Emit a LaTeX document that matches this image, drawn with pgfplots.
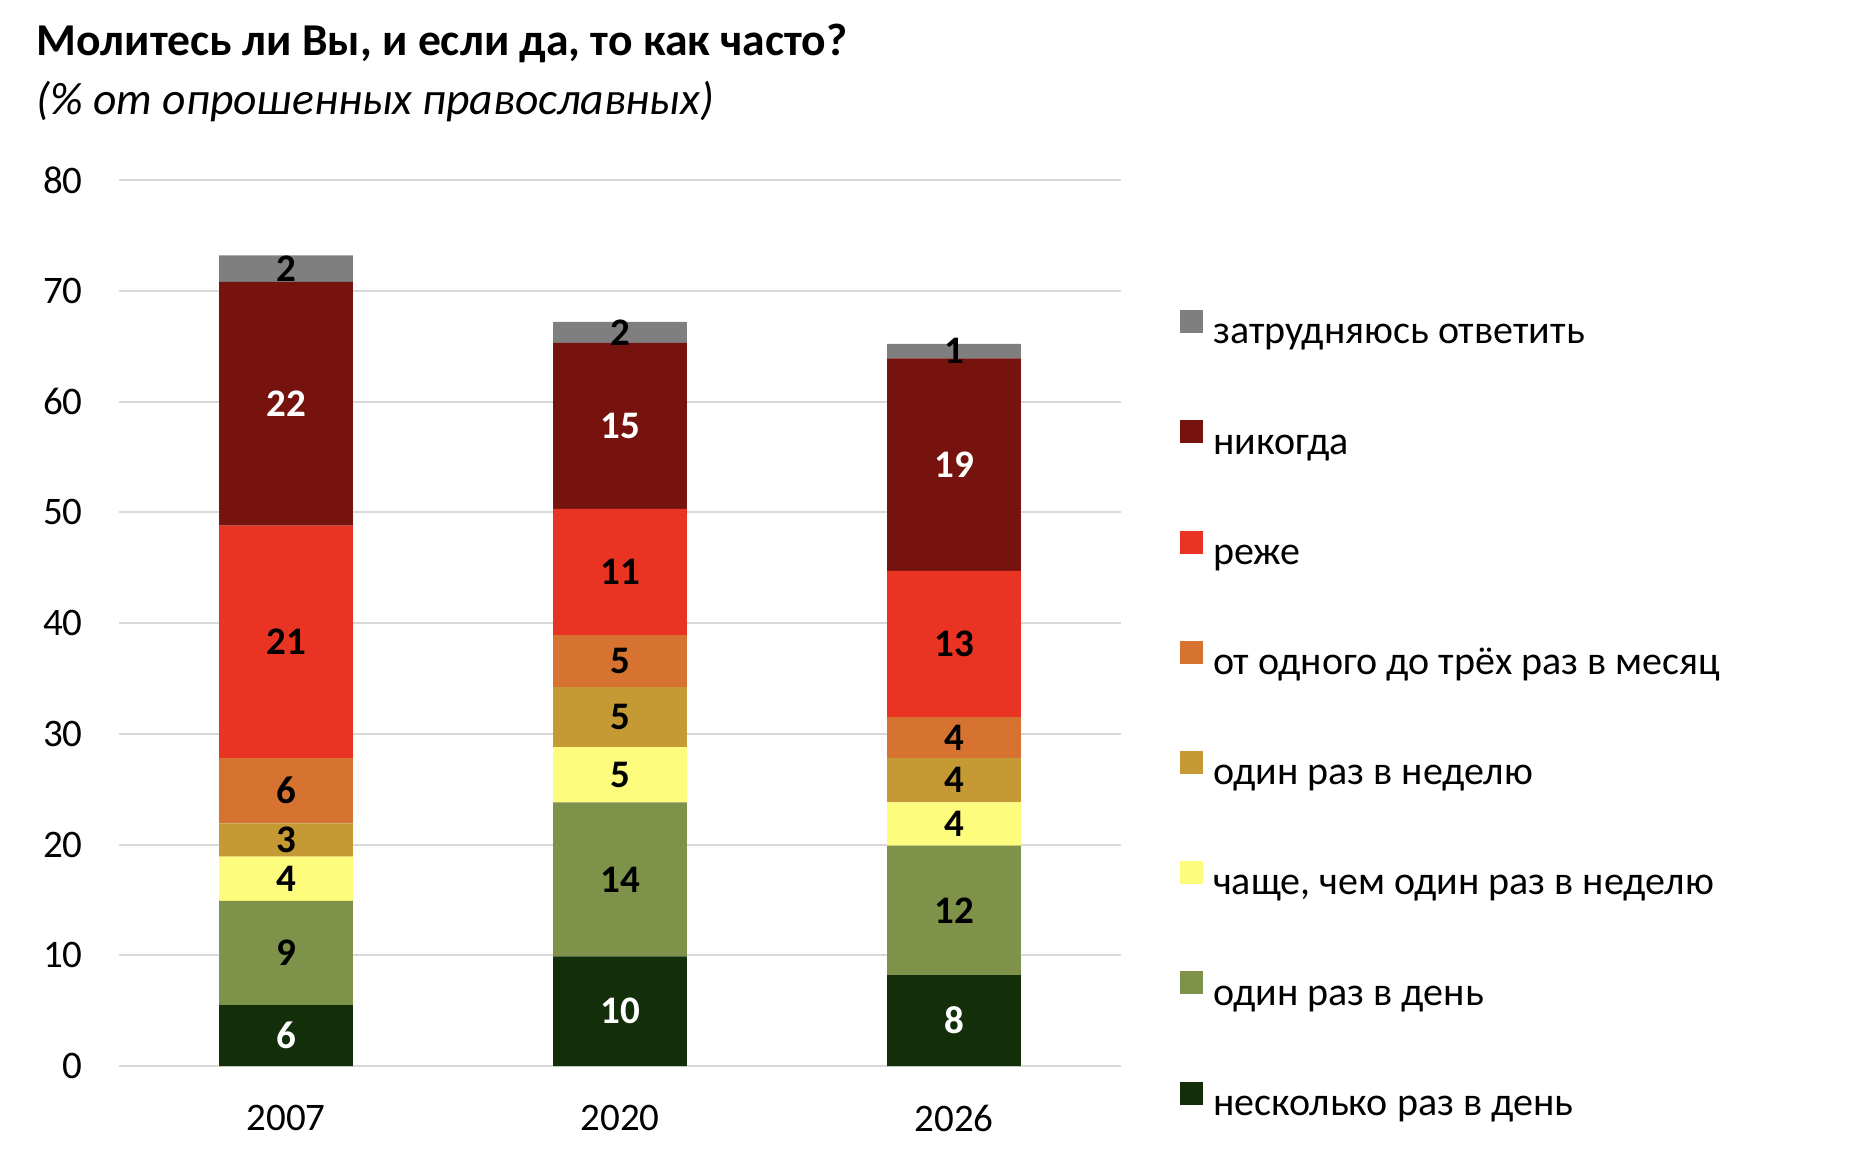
\documentclass[border=0pt]{standalone}
\usepackage{pgfplots}
\pgfplotsset{compat=1.18}
\usepackage{pgfplotstable}
\usepackage{fontspec}
\setmainfont{Carlito}

\definecolor{cA}{HTML}{132F09}
\definecolor{cB}{HTML}{7F9249}
\definecolor{cC}{HTML}{FEFC7C}
\definecolor{cD}{HTML}{C59A35}
\definecolor{cE}{HTML}{D67331}
\definecolor{cF}{HTML}{E93424}
\definecolor{cG}{HTML}{76130E}
\definecolor{cH}{HTML}{7F7F7F}
\definecolor{gridc}{HTML}{D9D9D9}

\pgfplotstableread{
x  a    b    c   d   e   f    g    h
0  5.5  9.4  4.0 3.0 5.9 21.0 22.0 2.4
1  9.9  13.9 5.0 5.4 4.7 11.4 15.0 1.9
2  8.2  11.7 3.9 4.0 3.7 13.2 19.2 1.3
}\data

\pgfplotsset{sqleg/.style={legend image code/.code={\path[##1] (0pt,0.3pt) rectangle (11.5pt,11.8pt);}}}

\newcommand\seg[4]{%
\addplot[fill=#2, draw=none, sqleg,
  visualization depends on={\thisrow{#1} \as \val},
  nodes near coords={\pgfmathprintnumber[fixed,precision=0]{\val}},
  every node near coord/.append style={text=#3, anchor=center, inner sep=0pt,
     font=\fontsize{19.5}{22}\selectfont\bfseries}]
  table[x=x,y=#1]{\data};
\addlegendentry{#4}}

\begin{document}
\begin{tikzpicture}
\useasboundingbox (0,0) rectangle (928pt,574pt);
\node[anchor=base west, inner sep=0pt, font=\fontsize{22.8}{28}\selectfont\bfseries] at (18pt,546pt) {Молитесь ли Вы, и если да, то как часто?};
\node[anchor=base west, inner sep=0pt, font=\fontsize{22.8}{28}\selectfont\itshape] at (18pt,516.5pt) {(\% от опрошенных православных)};
\begin{axis}[
  at={(59.5pt,41pt)}, anchor=south west,
  scale only axis, width=501pt, height=443pt,
  ybar stacked, bar width=0.4,
  xmin=-0.5, xmax=2.5, ymin=0, ymax=80,
  xtick={0,1,2}, xticklabels={2007,2020,2026},
  ytick={0,10,...,80},
  ymajorgrids, grid style={gridc, line width=1pt},
  axis line style={draw=none}, major tick length=0pt,
  tick label style={font=\fontsize{19.5}{23}\selectfont},
  /pgf/number format/assume math mode=true,
  yticklabel style={anchor=east, inner sep=0pt, xshift=-18pt},
  xticklabel style={anchor=center, inner sep=0pt, yshift=-26pt},
  reverse legend,
  legend cell align=left,
  legend style={at={(1.059,0.853)}, anchor=north west, draw=none, fill=none,
    inner sep=0pt, outer sep=0pt, row sep=34.3pt, column sep=5pt,
    font=\fontsize{20}{23}\selectfont,
    nodes={inner sep=0pt, text height=14pt, text depth=4pt}},
]
\seg{a}{cA}{white}{несколько раз в день}
\seg{b}{cB}{black}{один раз в день}
\seg{c}{cC}{black}{чаще, чем один раз в неделю}
\seg{d}{cD}{black}{один раз в неделю}
\seg{e}{cE}{black}{от одного до трёх раз в месяц}
\seg{f}{cF}{black}{реже}
\seg{g}{cG}{white}{никогда}
\seg{h}{cH}{black}{затрудняюсь ответить}
\end{axis}
\end{tikzpicture}
\end{document}
